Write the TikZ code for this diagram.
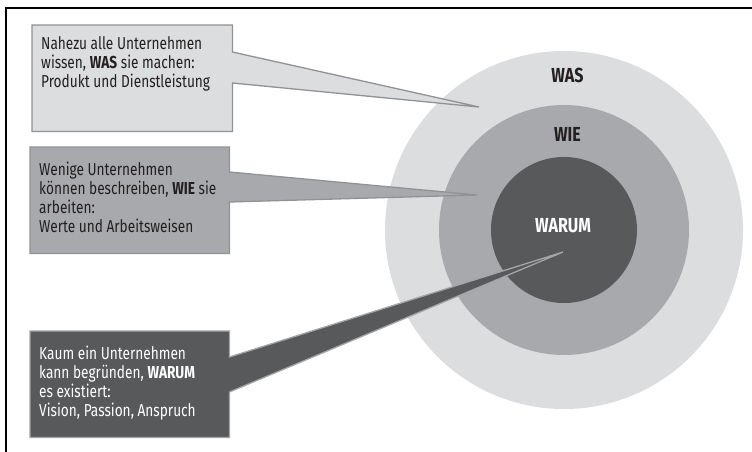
\documentclass[tikz,border=0pt]{standalone}
\usepackage{fontspec}
\setmainfont{Fira Sans}[FakeStretch=0.79]
\usetikzlibrary{calc}
\definecolor{cLight}{HTML}{DCDDDE}
\definecolor{cMid}{HTML}{A7A9AC}
\definecolor{cDark}{HTML}{58595B}
\definecolor{cEdge}{HTML}{909295}
\definecolor{cEdgeL}{HTML}{A3A5A8}
\definecolor{cInk}{HTML}{231F20}
\tikzset{
  ring/.style={circle, inner sep=0pt, draw=none},
  boxarea/.style={rectangle, inner sep=0pt, draw=none, minimum width=#1},
  callout/.style={line width=1.3pt, line join=miter},
  bodytext/.style={anchor=north west, inner sep=0pt, align=left, font=\fontsize{17.3}{19}\selectfont},
  ringlabel/.style={inner sep=0pt, font=\bfseries\fontsize{20.3}{20.3}\selectfont}
}
\newcommand{\firstline}{\rule{0pt}{15pt}}
\begin{document}
\begin{tikzpicture}[x=1pt,y=-1pt]
\useasboundingbox (0,0) rectangle (752,452);
\fill[white] (0,0) rectangle (752,452);
% frame
\draw[line width=1.3pt] (6,452) -- (6,8) -- (752,8);

% rings
\node[ring, fill=cLight, minimum size=358pt] (outer) at (564,230) {};
\node[ring, fill=cMid, minimum size=250pt] (middle) at (564,230) {};
\node[ring, fill=cDark, minimum size=146pt] (inner) at (564,230) {};
\node[ringlabel, text=cInk] (lwas) at (567.5,75) {WAS};
\node[ringlabel, text=cInk] (lwie) at (567.5,134) {WIE};
\node[ringlabel, text=white] (lwarum) at (563,226) {WARUM};

% tips
\coordinate (t1) at (479,107);
\coordinate (t2) at (477,195);
\coordinate (t3) at (563,252);

% box areas
\node[boxarea=200pt, minimum height=106pt, anchor=north west] (b1) at (32,25) {};
\node[boxarea=199pt, minimum height=106pt, anchor=north west] (b2) at (30,147) {};
\node[boxarea=199pt, minimum height=106pt, anchor=north west] (b3) at (30,331) {};

% callouts
\filldraw[callout, fill=cLight, draw=cEdge]
  (b1.north west) -- (b1.north east) -- ($(b1.north east)+(0,27)$) -- (t1)
  -- ($(b1.north east)+(0,58)$) -- (b1.south east) -- (b1.south west) -- cycle;
\filldraw[callout, fill=cMid, draw=cEdge]
  (b2.north west) -- (b2.north east) -- ($(b2.north east)+(0,25)$) -- (t2)
  -- ($(b2.north east)+(0,55)$) -- (b2.south east) -- (b2.south west) -- cycle;
\filldraw[callout, fill=cDark, draw=cEdgeL]
  (b3.north west) -- (b3.north east) -- ($(b3.north east)+(0,26)$) -- (t3)
  -- ($(b3.north east)+(0,61)$) -- (b3.south east) -- (b3.south west) -- cycle;

% texts
\node[bodytext, text=cInk] (x1) at ($(b1.north west)+(9,9.3)$)
  {\firstline Nahezu alle Unternehmen\\wissen, \textbf{WAS} sie machen:\\Produkt und Dienstleistung};
\node[bodytext, text=cInk] (x2) at ($(b2.north west)+(9,13)$)
  {\firstline Wenige Unternehmen\\können beschreiben, \textbf{WIE} sie\\arbeiten:\\Werte und Arbeitsweisen};
\node[bodytext, text=white] (x3) at ($(b3.north west)+(9,13)$)
  {\firstline Kaum ein Unternehmen\\kann begründen, \textbf{WARUM}\\es existiert:\\Vision, Passion, Anspruch};
\end{tikzpicture}
\end{document}
